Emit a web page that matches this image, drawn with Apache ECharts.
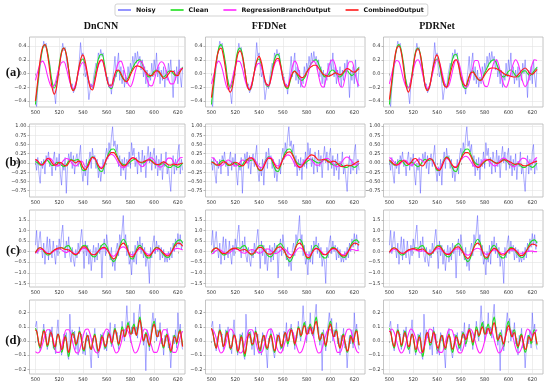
<!DOCTYPE html>
<html><head><meta charset="utf-8">
<script src="https://cdn.jsdelivr.net/npm/echarts@6/dist/echarts.min.js"></script>
<style>html,body{margin:0;padding:0;background:#fff}#c{width:550px;height:385px}</style>
</head><body><div id="c"></div>
<script>
const X_START = 500;
const xTicks = [500,520,540,560,580,600,620];
const yTicksA = [-0.4,-0.2,0,0.2,0.4];
const yTicksB = [-0.75,-0.5,-0.25,0,0.25,0.5,0.75,1.0];
const yTicksC = [-1.5,-1,-0.5,0,0.5,1,1.5];
const yTicksD = [-0.2,-0.1,0,0.1,0.2];
const columnTitles = ['DnCNN','FFDNet','PDRNet'];
const rowTitles = ['(a)','(b)','(c)','(d)'];
const seriesNames = ['Noisy','Clean','RegressionBranchOutput','CombinedOutput'];

// ---- row (a) ----
const noisyA = [-0.38,-0.48,-0.2,-0.05,0.1,0.25,0.35,0.47,0.38,0.44,
0.3,0.2,0.15,-0.05,-0.1,-0.2,-0.3,-0.44,-0.15,-0.05,
0.08,0.2,0.3,0.44,0.33,0.38,0.22,0.1,0.05,-0.1,
-0.2,-0.15,-0.28,-0.3,-0.2,-0.08,0.0,0.2,0.45,0.25,
0.3,0.1,-0.05,0.05,-0.15,-0.38,-0.25,-0.15,-0.22,-0.05,
0.05,0.15,0.1,0.3,0.22,0.35,0.25,0.3,0.12,0.0,
-0.1,-0.05,-0.2,-0.15,-0.3,-0.1,0.05,0.25,-0.05,0.15,
0.3,-0.1,0.1,-0.15,0.05,-0.2,-0.05,-0.15,0.1,-0.05,
0.15,0.05,0.25,0.1,0.3,0.15,0.32,0.18,0.25,0.05,
0.2,-0.05,0.1,-0.15,0.05,-0.2,0.0,-0.1,0.15,-0.05,
0.2,0.05,0.3,-0.05,0.1,-0.15,0.05,-0.1,0.1,-0.2,
0.05,-0.1,0.15,0.0,0.2,-0.05,-0.35,0.05,-0.1,0.1,
-0.15,0.2,-0.05,-0.2,0.1];
const cleanA = [-0.45,-0.15,0.15,0.36,0.42,0.33,0.12,-0.12,-0.21,-0.1,
0.12,0.32,0.37,0.28,0.06,-0.17,-0.24,-0.16,0.02,0.17,
0.21,0.12,-0.05,-0.17,-0.19,-0.05,0.14,0.26,0.28,0.15,
-0.05,-0.19,-0.22,-0.12,0.0,0.04,-0.02,-0.08,-0.1,-0.07,
0.01,0.08,0.15,0.19,0.2,0.14,0.05,-0.03,-0.05,-0.02,
0.03,0.05,0.02,-0.03,-0.05,-0.02,0.03,0.04,0.0,-0.03,
0.0,0.05,0.09];
const regA1 = [-0.1,0.03,0.14,0.18,0.12,-0.02,-0.14,-0.2,-0.17,-0.05,
0.08,0.16,0.17,0.08,-0.06,-0.18,-0.22,-0.14,0.0,0.12,
0.16,0.1,-0.04,-0.16,-0.19,-0.1,0.05,0.16,0.19,0.1,
-0.06,-0.18,-0.2,-0.1,0.05,0.16,0.18,0.1,-0.04,-0.15,
-0.19,-0.12,0.02,0.13,0.18,0.16,0.05,-0.08,-0.17,-0.18,
-0.1,0.03,0.13,0.17,0.15,0.05,-0.08,-0.15,-0.15,-0.07,
0.02,0.06,0.08];
const combA1 = [-0.4,-0.1,0.2,0.38,0.42,0.3,0.05,-0.2,-0.3,-0.18,
0.08,0.3,0.37,0.28,0.05,-0.18,-0.25,-0.17,0.03,0.2,
0.27,0.17,-0.02,-0.2,-0.24,-0.12,0.06,0.18,0.2,0.1,
-0.06,-0.17,-0.17,-0.06,0.04,0.05,0.0,-0.07,-0.12,-0.1,
-0.02,0.05,0.1,0.11,0.1,0.08,0.04,0.0,-0.03,-0.03,
0.01,0.04,0.03,-0.02,-0.07,-0.06,-0.01,0.03,0.03,-0.02,
-0.03,0.03,0.08];
const regA2 = [-0.15,-0.02,0.12,0.18,0.13,0.0,-0.15,-0.23,-0.18,-0.04,
0.1,0.18,0.17,0.07,-0.08,-0.19,-0.22,-0.13,0.01,0.12,
0.15,0.09,-0.05,-0.16,-0.18,-0.08,0.07,0.17,0.19,0.1,
-0.05,-0.16,-0.18,-0.06,0.1,0.18,0.13,-0.02,-0.17,-0.2,
-0.1,0.05,0.15,0.18,0.12,-0.03,-0.17,-0.2,-0.1,0.06,
0.17,0.2,0.12,-0.04,-0.18,-0.2,-0.08,0.08,0.17,0.17,
0.05,-0.1,-0.18];
const combA2 = [-0.35,-0.08,0.18,0.33,0.37,0.26,0.04,-0.2,-0.27,-0.16,
0.07,0.27,0.33,0.25,0.05,-0.17,-0.24,-0.16,0.02,0.18,
0.25,0.16,-0.02,-0.15,-0.17,-0.07,0.1,0.2,0.22,0.12,
-0.06,-0.18,-0.2,-0.1,0.0,0.03,0.0,-0.04,-0.06,-0.04,
0.02,0.07,0.1,0.12,0.12,0.08,0.03,-0.01,-0.03,-0.04,
-0.03,-0.01,0.01,0.0,-0.02,0.0,0.05,0.07,0.06,0.03,
0.02,0.04,0.07];
const regA3 = [-0.15,0.0,0.13,0.19,0.17,0.05,-0.1,-0.19,-0.2,-0.1,
0.05,0.17,0.2,0.13,-0.02,-0.16,-0.22,-0.16,-0.02,0.12,
0.2,0.16,0.03,-0.12,-0.2,-0.17,-0.04,0.11,0.2,0.17,
0.04,-0.11,-0.2,-0.18,-0.06,0.09,0.19,0.19,0.08,-0.07,
-0.18,-0.19,-0.09,0.06,0.17,0.2,0.11,-0.04,-0.16,-0.2,
-0.13,0.01,0.14,0.2,0.15,0.02,-0.12,-0.19,-0.14,0.0,
0.14,0.2,0.19];
const combA3 = [-0.38,-0.1,0.18,0.36,0.4,0.3,0.06,-0.18,-0.27,-0.15,
0.1,0.3,0.36,0.27,0.05,-0.18,-0.25,-0.17,0.03,0.2,
0.27,0.17,-0.02,-0.17,-0.2,-0.1,0.06,0.17,0.2,0.12,
-0.05,-0.15,-0.18,-0.09,0.0,0.02,-0.02,-0.07,-0.1,-0.08,
-0.02,0.03,0.07,0.08,0.08,0.07,0.05,0.03,0.0,-0.02,
-0.03,-0.04,-0.05,-0.05,-0.02,0.02,0.06,0.08,0.05,0.0,
-0.01,0.02,0.06];

// ---- row (b) ----
const noisyB = [0.1,-0.2,0.15,-0.3,-0.55,0.05,-0.15,0.1,-0.3,0.2,
0.05,0.3,-0.1,0.05,-0.35,0.1,0.3,-0.2,0.15,-0.1,
0.25,-0.3,-0.6,0.0,-0.2,0.15,-0.82,-0.1,0.25,0.05,
0.3,-0.15,0.2,-0.3,0.1,0.25,-0.1,0.2,0.48,-0.2,
-0.5,-0.1,-0.35,0.1,-0.6,0.05,0.3,-0.15,0.4,0.1,
0.2,-0.15,0.1,-0.4,-0.1,-0.5,-0.2,0.1,-0.3,0.2,
0.4,0.1,0.55,0.25,0.7,0.98,0.45,0.6,0.3,0.5,
-0.1,0.2,-0.35,0.1,-0.2,0.15,-0.45,0.1,-0.1,0.3,
-0.15,0.55,0.2,0.4,-0.1,0.15,-0.3,0.3,0.05,-0.25,
0.35,-0.1,0.2,-0.4,0.15,0.45,0.0,0.3,-0.2,0.2,
0.4,-0.15,0.2,-0.35,0.1,-0.2,0.25,-0.45,0.05,-0.1,
0.3,-0.3,-0.05,-0.45,-0.77,-0.1,0.2,-0.3,0.1,-0.2,
0.3,0.5,-0.3,0.1,-0.2];
const cleanB = [0.04,0.0,-0.06,-0.03,0.05,0.07,0.0,-0.07,-0.05,0.02,
0.0,-0.06,-0.1,-0.05,0.05,0.1,0.06,0.08,0.1,-0.05,
-0.2,-0.2,-0.05,0.1,0.17,0.12,-0.05,-0.2,-0.23,-0.08,
0.12,0.28,0.37,0.38,0.26,0.1,0.0,-0.04,-0.05,-0.02,
0.03,0.08,0.1,0.06,0.02,0.0,0.02,0.07,0.1,0.06,
0.0,-0.05,-0.06,-0.03,-0.02,-0.07,-0.12,-0.12,-0.06,-0.08,
-0.12,-0.08,0.0];
const regB1 = [0.08,0.05,-0.02,-0.06,0.0,0.1,0.13,0.08,-0.02,-0.08,
-0.07,0.0,0.08,0.12,0.1,0.03,-0.05,-0.08,-0.03,0.05,
0.02,-0.1,-0.1,0.03,0.15,0.12,0.0,-0.1,-0.12,-0.03,
0.1,0.2,0.23,0.2,0.1,-0.02,-0.1,-0.13,-0.1,0.0,
0.1,0.15,0.12,0.03,-0.06,-0.1,-0.06,0.05,0.13,0.14,
0.07,-0.03,-0.1,-0.11,-0.04,0.06,0.13,0.13,0.05,-0.05,
0.05,0.14,0.15];
const combB1 = [0.1,0.05,-0.03,-0.05,0.03,0.12,0.1,0.0,-0.06,-0.04,
0.02,0.0,-0.06,-0.08,0.0,0.08,0.05,0.0,0.05,0.03,
-0.12,-0.18,-0.1,0.05,0.15,0.13,0.0,-0.12,-0.15,-0.05,
0.12,0.22,0.28,0.28,0.2,0.08,-0.02,-0.08,-0.06,0.02,
0.1,0.14,0.12,0.06,0.02,0.02,0.05,0.08,0.08,0.04,
-0.01,-0.04,-0.04,0.0,0.03,0.0,-0.05,-0.06,-0.03,-0.04,
-0.05,-0.02,0.0];
const regB2 = [0.15,0.12,0.04,-0.05,-0.08,-0.04,0.04,0.08,0.05,-0.02,
-0.08,-0.06,0.02,0.08,0.06,0.0,0.08,0.13,0.1,0.0,
-0.1,-0.13,-0.05,0.08,0.15,0.15,0.05,-0.05,-0.08,-0.02,
0.08,0.17,0.22,0.2,0.1,-0.03,-0.1,-0.1,-0.04,0.05,
0.11,0.12,0.08,0.0,-0.06,-0.06,0.0,0.08,0.12,0.12,
0.06,-0.02,-0.08,-0.1,-0.05,0.05,0.13,0.16,0.12,0.04,
-0.04,-0.05,0.0];
const combB2 = [0.02,0.0,-0.05,-0.06,-0.02,0.03,0.02,-0.04,-0.06,-0.03,
0.02,0.0,-0.05,-0.08,-0.02,0.08,0.14,0.14,0.05,-0.08,
-0.18,-0.2,-0.1,0.05,0.13,0.12,0.02,-0.1,-0.15,-0.06,
0.1,0.22,0.29,0.3,0.22,0.08,-0.05,-0.12,-0.1,0.0,
0.1,0.18,0.22,0.2,0.14,0.08,0.08,0.1,0.08,0.03,
0.02,0.05,0.04,-0.02,-0.08,-0.1,-0.08,-0.06,-0.08,-0.06,
-0.02,0.02,0.05];
const regB3 = [0.15,0.1,0.02,-0.05,-0.05,0.02,0.08,0.06,-0.01,-0.06,
-0.04,0.04,0.1,0.1,0.04,0.02,0.08,0.12,0.08,-0.05,
-0.15,-0.16,-0.05,0.08,0.12,0.08,-0.02,-0.1,-0.1,-0.02,
0.08,0.15,0.18,0.15,0.06,-0.04,-0.1,-0.1,-0.04,0.04,
0.1,0.1,0.04,-0.03,-0.08,-0.06,0.02,0.1,0.13,0.1,
0.03,-0.05,-0.1,-0.08,0.0,0.08,0.13,0.12,0.05,-0.03,
0.0,0.1,0.15];
const combB3 = [0.08,0.02,-0.04,-0.06,-0.02,0.04,0.06,0.02,-0.04,0.0,
0.1,0.12,0.05,-0.06,-0.08,0.0,0.08,0.12,0.08,-0.04,
-0.16,-0.2,-0.1,0.06,0.15,0.1,-0.02,-0.1,-0.12,-0.04,
0.1,0.22,0.28,0.28,0.2,0.06,-0.06,-0.12,-0.1,-0.02,
0.05,0.08,0.09,0.07,0.02,-0.01,0.0,0.04,0.08,0.08,
0.05,0.02,-0.02,-0.04,-0.02,-0.03,-0.07,-0.08,-0.06,-0.03,
0.0,0.03,0.05];

// ---- row (c) ----
const noisyC = [0.3,1.0,-0.1,0.5,0.95,0.2,-0.3,0.4,-0.6,0.1,
0.7,-0.4,0.6,0.0,-0.3,0.5,-0.1,-0.6,0.3,-0.2,
0.6,0.1,0.8,1.25,0.2,-0.3,0.5,0.0,0.7,-0.2,
-0.5,0.2,-0.4,-0.7,0.1,-0.3,0.4,-0.1,0.6,1.05,
0.2,-0.8,0.5,-0.2,0.3,-0.6,0.1,-0.9,-0.2,0.3,
-0.5,0.2,-0.4,0.4,-0.1,0.3,-1.25,0.2,0.6,-0.2,
0.8,0.3,0.0,-0.4,0.2,-0.7,-0.3,-0.9,0.1,0.4,
-0.2,0.8,0.4,1.0,1.7,0.3,0.8,-0.2,0.3,-0.6,
-0.3,-1.1,0.0,-0.5,0.3,-0.6,0.5,0.1,0.7,-0.1,
0.4,-0.3,0.2,-0.7,-0.2,-0.5,-1.5,0.2,-0.3,0.4,
0.75,-0.1,0.5,0.0,0.3,-0.4,0.2,-0.3,0.1,-0.5,
-0.2,-0.5,0.0,-0.4,0.2,-0.3,0.4,0.0,0.6,0.2,
0.85,0.3,0.8,0.1,0.5];
const cleanC = [-0.05,0.12,0.18,0.1,-0.06,-0.16,-0.14,-0.02,0.08,0.1,
0.15,0.18,0.15,0.25,0.28,0.1,-0.1,-0.17,-0.08,0.12,
0.28,0.3,0.15,-0.08,-0.22,-0.25,-0.1,0.12,0.3,0.38,
0.25,-0.05,-0.35,-0.48,-0.3,0.05,0.4,0.58,0.45,0.05,
-0.3,-0.35,-0.1,0.2,0.3,0.15,-0.1,-0.28,-0.3,-0.1,
0.1,0.2,0.15,0.0,-0.15,-0.26,-0.28,-0.12,0.15,0.4,
0.52,0.55,0.4];
const regC1 = [-0.08,0.02,0.1,0.1,0.02,-0.07,-0.1,-0.05,0.04,0.1,
0.12,0.08,0.0,-0.05,0.0,0.02,-0.06,-0.12,-0.08,0.05,
0.15,0.15,0.06,-0.06,-0.14,-0.14,-0.05,0.07,0.14,0.15,
0.08,-0.05,-0.18,-0.22,-0.12,0.05,0.18,0.22,0.16,0.02,
-0.12,-0.16,-0.08,0.05,0.12,0.1,0.0,-0.1,-0.13,-0.07,
0.04,0.1,0.1,0.02,-0.07,-0.12,-0.12,-0.05,0.06,0.13,
0.15,0.12,0.08];
const combC1 = [-0.05,0.12,0.18,0.12,-0.02,-0.1,-0.1,-0.02,0.08,0.14,
0.18,0.18,0.12,0.1,0.08,0.0,-0.1,-0.14,-0.06,0.1,
0.22,0.22,0.1,-0.05,-0.15,-0.15,-0.05,0.08,0.18,0.2,
0.12,-0.05,-0.25,-0.35,-0.22,0.05,0.3,0.4,0.3,0.02,
-0.22,-0.25,-0.1,0.1,0.2,0.12,-0.05,-0.18,-0.2,-0.08,
0.08,0.18,0.16,0.05,-0.08,-0.18,-0.2,-0.08,0.12,0.3,
0.4,0.38,0.25];
const regC2 = [-0.12,-0.05,0.05,0.1,0.06,-0.03,-0.1,-0.1,-0.02,0.07,
0.12,0.1,0.02,-0.06,-0.08,-0.02,0.06,0.1,0.06,-0.02,
-0.08,-0.05,0.05,0.12,0.12,0.04,-0.06,-0.1,-0.05,0.06,
0.13,0.1,-0.02,-0.14,-0.16,-0.05,0.1,0.18,0.14,0.0,
-0.14,-0.17,-0.08,0.06,0.14,0.12,0.02,-0.1,-0.14,-0.08,
0.04,0.12,0.12,0.03,-0.08,-0.14,-0.12,-0.03,0.06,0.1,
0.08,0.05,0.08];
const combC2 = [0.0,0.12,0.16,0.1,-0.03,-0.1,-0.08,0.0,0.1,0.15,
0.16,0.12,0.06,0.08,0.1,0.02,-0.08,-0.12,-0.05,0.1,
0.2,0.2,0.08,-0.05,-0.12,-0.12,-0.03,0.1,0.2,0.22,
0.12,-0.06,-0.24,-0.3,-0.18,0.08,0.32,0.4,0.3,0.0,
-0.25,-0.28,-0.12,0.08,0.15,0.1,-0.03,-0.14,-0.15,-0.05,
0.08,0.15,0.14,0.04,-0.1,-0.2,-0.2,-0.08,0.12,0.3,
0.4,0.38,0.3];
const regC3 = [-0.05,0.05,0.1,0.08,0.0,-0.07,-0.08,-0.03,0.04,0.08,
0.1,0.08,0.03,0.02,0.04,0.0,-0.06,-0.09,-0.05,0.05,
0.13,0.14,0.06,-0.04,-0.1,-0.1,-0.03,0.06,0.12,0.13,
0.07,-0.03,-0.13,-0.17,-0.1,0.02,0.12,0.16,0.12,0.02,
-0.1,-0.13,-0.07,0.03,0.08,0.06,-0.02,-0.08,-0.09,-0.04,
0.03,0.08,0.08,0.03,-0.04,-0.08,-0.08,-0.04,0.0,0.02,
0.02,0.0,0.0];
const combC3 = [-0.02,0.12,0.17,0.12,0.0,-0.08,-0.08,0.0,0.08,0.12,
0.14,0.12,0.08,0.1,0.12,0.04,-0.08,-0.12,-0.05,0.1,
0.22,0.24,0.12,-0.04,-0.13,-0.13,-0.04,0.1,0.2,0.22,
0.12,-0.06,-0.25,-0.32,-0.2,0.05,0.3,0.4,0.32,0.02,
-0.24,-0.28,-0.12,0.06,0.15,0.1,-0.04,-0.15,-0.16,-0.06,
0.06,0.14,0.14,0.05,-0.08,-0.18,-0.18,-0.06,0.12,0.28,
0.35,0.33,0.25];

// ---- row (d) ----
const noisyD = [0.1,0.14,0.0,-0.02,-0.07,0.02,0.04,0.12,0.03,0.05,
-0.06,0.0,0.08,0.03,0.1,-0.05,-0.03,-0.09,0.06,0.15,
0.0,-0.02,-0.1,-0.04,0.05,0.0,0.06,-0.1,-0.13,0.19,
0.02,0.08,0.02,0.07,-0.06,0.01,-0.1,0.1,0.03,0.05,
-0.09,-0.04,-0.1,0.06,0.0,0.04,-0.08,-0.19,0.02,0.0,
0.09,-0.03,-0.02,-0.12,-0.04,0.05,0.0,0.06,-0.06,-0.02,
-0.07,0.07,0.02,0.13,-0.04,0.03,0.02,0.12,0.04,0.06,
-0.06,0.04,0.02,0.14,0.05,0.0,0.1,0.25,0.1,0.14,
0.0,0.1,0.05,0.2,0.05,0.1,0.02,0.18,0.26,0.08,
0.1,-0.03,0.05,-0.21,0.08,0.02,-0.07,0.04,0.05,0.2,
0.1,0.16,0.0,0.08,0.03,0.13,-0.02,0.02,-0.1,0.04,
0.0,0.09,-0.05,-0.02,-0.19,-0.04,0.04,-0.02,0.08,-0.05,
0.2,0.05,0.12,-0.02,-0.06];
const cleanD = [0.09,0.07,0.02,-0.03,-0.05,-0.01,0.05,0.08,0.06,0.0,
-0.04,-0.02,0.04,0.07,0.04,-0.02,-0.06,-0.04,0.02,0.05,
0.03,-0.03,-0.08,-0.06,0.0,0.04,0.01,-0.07,-0.11,-0.07,
0.0,0.05,0.06,0.02,-0.03,-0.02,0.03,0.07,0.05,-0.01,
-0.06,-0.07,-0.02,0.03,0.04,0.0,-0.05,-0.06,-0.02,0.03,
0.05,0.01,-0.05,-0.08,-0.05,0.01,0.04,0.02,-0.03,-0.05,
-0.02,0.04,0.06,0.03,-0.02,0.0,0.06,0.09,0.06,0.01,
-0.03,0.0,0.06,0.1,0.08,0.03,0.05,0.1,0.13,0.1,
0.05,0.06,0.1,0.12,0.08,0.04,0.08,0.14,0.17,0.12,
0.04,0.0,0.02,0.06,0.04,-0.01,-0.04,0.0,0.07,0.12,
0.14,0.1,0.04,0.03,0.07,0.08,0.03,-0.03,-0.05,-0.01,
0.04,0.05,0.0,-0.05,-0.08,-0.06,0.0,0.04,0.02,-0.02,
0.02,0.07,0.08,0.03,-0.03];
const regD1 = [-0.075,-0.085,-0.07,-0.02,0.04,0.08,0.08,0.04,-0.03,-0.08,
-0.08,-0.04,0.03,0.08,0.08,0.04,-0.03,-0.08,-0.085,-0.04,
0.03,0.08,0.085,0.05,-0.02,-0.07,-0.085,-0.06,0.0,0.06,
0.085,0.07,0.01,-0.05,-0.085,-0.07,-0.02,0.05,0.085,0.07,
0.02,-0.05,-0.085,-0.07,-0.02,0.05,0.085,0.075,0.02,-0.04,
-0.08,-0.08,-0.04,0.03,0.08,0.08,0.04,-0.03,-0.08,-0.08,
-0.04,0.03,0.07];
const combD1 = [0.08,0.07,0.03,-0.02,-0.04,-0.01,0.04,0.07,0.06,0.01,
-0.03,-0.01,0.04,0.06,0.04,-0.01,-0.04,-0.03,0.02,0.05,
0.03,-0.02,-0.06,-0.05,0.0,0.03,0.01,-0.05,-0.08,-0.05,
0.01,0.05,0.05,0.02,-0.02,-0.01,0.03,0.06,0.05,0.0,
-0.05,-0.06,-0.02,0.02,0.04,0.01,-0.04,-0.06,-0.02,0.02,
0.04,0.01,-0.04,-0.07,-0.05,0.0,0.03,0.02,-0.02,-0.04,
-0.02,0.03,0.05,0.03,-0.01,0.0,0.05,0.08,0.06,0.01,
-0.02,0.0,0.05,0.08,0.07,0.03,0.04,0.08,0.11,0.09,
0.05,0.05,0.08,0.1,0.07,0.04,0.07,0.12,0.15,0.11,
0.04,0.0,0.02,0.05,0.03,-0.01,-0.03,0.0,0.06,0.1,
0.12,0.09,0.04,0.03,0.06,0.07,0.03,-0.02,-0.04,-0.01,
0.03,0.04,0.0,-0.04,-0.07,-0.05,0.0,0.03,0.02,-0.01,
0.02,0.06,0.07,0.02,-0.04];
const regD2 = [0.085,0.07,0.02,-0.05,-0.085,-0.07,-0.02,0.05,0.085,0.07,
0.02,-0.05,-0.085,-0.075,-0.02,0.04,0.08,0.08,0.04,-0.03,
-0.08,-0.08,-0.04,0.03,0.08,0.085,0.05,-0.02,-0.07,-0.085,
-0.06,0.0,0.06,0.085,0.07,0.01,-0.05,-0.085,-0.07,-0.02,
0.05,0.085,0.07,0.02,-0.05,-0.085,-0.075,-0.02,0.04,0.08,
0.08,0.04,-0.03,-0.08,-0.08,-0.04,0.03,0.08,0.085,0.05,
-0.02,-0.07,-0.085];
const combD2 = [0.09,0.06,0.02,-0.02,-0.05,-0.02,0.04,0.07,0.05,0.0,
-0.04,-0.02,0.03,0.06,0.04,-0.01,-0.05,-0.04,0.01,0.04,
0.03,-0.02,-0.07,-0.06,-0.01,0.03,0.01,-0.06,-0.09,-0.06,
0.0,0.04,0.05,0.02,-0.02,-0.02,0.02,0.06,0.05,0.0,
-0.05,-0.06,-0.02,0.02,0.04,0.01,-0.04,-0.05,-0.02,0.02,
0.04,0.01,-0.04,-0.07,-0.05,0.0,0.04,0.03,-0.02,-0.04,
-0.01,0.04,0.06,0.04,0.0,0.01,0.05,0.08,0.06,0.01,
-0.02,0.01,0.06,0.09,0.08,0.04,0.05,0.09,0.11,0.09,
0.05,0.05,0.08,0.1,0.08,0.05,0.08,0.12,0.14,0.1,
0.04,0.01,0.02,0.05,0.04,0.0,-0.03,0.0,0.06,0.1,
0.12,0.09,0.04,0.03,0.06,0.07,0.03,-0.02,-0.05,-0.02,
0.03,0.04,0.0,-0.04,-0.07,-0.06,-0.01,0.03,0.02,-0.01,
0.02,0.06,0.07,0.03,-0.03];
const regD3 = [0.065,0.085,0.06,0.0,-0.06,-0.085,-0.065,-0.01,0.05,0.085,
0.07,0.02,-0.05,-0.085,-0.07,-0.02,0.05,0.085,0.075,0.02,
-0.04,-0.08,-0.08,-0.04,0.03,0.08,0.08,0.04,-0.03,-0.08,
-0.085,-0.05,0.02,0.07,0.085,0.06,0.0,-0.06,-0.085,-0.06,
0.0,0.06,0.085,0.07,0.01,-0.05,-0.085,-0.07,-0.02,0.05,
0.085,0.07,0.02,-0.05,-0.085,-0.07,-0.02,0.04,0.085,0.07,
0.04,0.06,0.08];
const combD3 = [0.07,0.06,0.02,-0.02,-0.04,0.0,0.05,0.07,0.05,0.01,
-0.03,-0.01,0.04,0.06,0.03,-0.01,-0.04,-0.03,0.02,0.05,
0.03,-0.02,-0.06,-0.05,0.0,0.03,0.01,-0.05,-0.08,-0.05,
0.01,0.05,0.06,0.03,-0.01,-0.01,0.03,0.06,0.05,0.0,
-0.04,-0.05,-0.02,0.02,0.04,0.02,-0.03,-0.05,-0.02,0.02,
0.04,0.02,-0.03,-0.06,-0.04,0.0,0.03,0.02,-0.01,-0.03,
-0.01,0.03,0.05,0.04,0.01,0.02,0.05,0.08,0.06,0.02,
-0.01,0.01,0.05,0.08,0.07,0.04,0.05,0.08,0.1,0.08,
0.05,0.05,0.08,0.09,0.07,0.05,0.07,0.11,0.13,0.1,
0.05,0.01,0.02,0.04,0.03,0.0,-0.02,0.01,0.05,0.09,
0.11,0.09,0.05,0.03,0.05,0.06,0.03,-0.01,-0.04,-0.02,
0.02,0.04,0.01,-0.03,-0.06,-0.05,-0.01,0.03,0.02,0.0,
0.02,0.05,0.06,0.02,-0.02];

// ---- assembly ----
const rows = [
  {noisy: noisyA, clean: cleanA, cStep: 2, reg: [regA1, regA2, regA3], comb: [combA1, combA2, combA3], kStep: 2, ticks: yTicksA, dec: 1, ymin: -0.487, ymax: 0.531},
  {noisy: noisyB, clean: cleanB, cStep: 2, reg: [regB1, regB2, regB3], comb: [combB1, combB2, combB3], kStep: 2, ticks: yTicksB, dec: 2, ymin: -0.92, ymax: 1.054},
  {noisy: noisyC, clean: cleanC, cStep: 2, reg: [regC1, regC2, regC3], comb: [combC1, combC2, combC3], kStep: 2, ticks: yTicksC, dec: 1, ymin: -1.67, ymax: 1.96},
  {noisy: noisyD, clean: cleanD, cStep: 1, reg: [regD1, regD2, regD3], comb: [combD1, combD2, combD3], kStep: 1, ticks: yTicksD, dec: 1, ymin: -0.233, ymax: 0.29}
];

const colLeft = [29.5, 205.5, 383.5];
const colRight = [185, 365, 543];
const colXMax = [626, 629, 629];
const X_MIN = 495;
const rowTop = [37, 124, 210, 300];
const rowBottom = [107, 197, 287, 374];

const COLORS = ['rgba(70,70,255,0.55)', '#1ee01e', '#ff26ff', '#ff1a1a'];
const WIDTHS = [0.8, 1.1, 1.1, 1.15];

function pts(arr, step) { return arr.map((v, i) => [X_START + i * step, v]); }
function fmt(v, dec) { const s = Math.abs(v).toFixed(dec); return (v < -1e-9 ? '\u2212' : '') + s; }

const grids = [], xAxes = [], yAxes = [], series = [];
rows.forEach((row, r) => {
  for (let c = 0; c < 3; c++) {
    const gi = grids.length;
    grids.push({left: colLeft[c], top: rowTop[r], width: colRight[c] - colLeft[c], height: rowBottom[r] - rowTop[r],
      show: true, borderColor: '#b5b5b5', borderWidth: 0.8, backgroundColor: '#fff'});
    xAxes.push({gridIndex: gi, type: 'value', min: X_MIN, max: colXMax[c],
      axisLine: {show: false},
      axisTick: {show: true, customValues: xTicks, length: 2, lineStyle: {color: '#888', width: 0.6}},
      axisLabel: {customValues: xTicks, fontSize: 5, color: '#333', margin: 3, fontFamily: 'DejaVu Sans'},
      splitLine: {show: true, lineStyle: {color: '#e3e3e3', width: 0.6}}});
    yAxes.push({gridIndex: gi, type: 'value', min: row.ymin, max: row.ymax,
      axisLine: {show: false},
      axisTick: {show: true, customValues: row.ticks, length: 2, lineStyle: {color: '#888', width: 0.6}},
      axisLabel: {customValues: row.ticks, fontSize: 5, color: '#333', margin: 3, fontFamily: 'DejaVu Sans', formatter: v => fmt(v, row.dec)},
      splitLine: {show: true, lineStyle: {color: '#e3e3e3', width: 0.6}}});
    const sets = [[row.noisy, 1, false], [row.clean, row.cStep, 0.35], [row.reg[c], 2, 0.35], [row.comb[c], row.kStep, 0.35]];
    sets.forEach((s, k) => {
      series.push({name: seriesNames[k], type: 'line', xAxisIndex: gi, yAxisIndex: gi,
        data: pts(s[0], s[1]), showSymbol: false, symbol: 'none', smooth: s[2],
        lineStyle: {color: COLORS[k], width: WIDTHS[k]}, itemStyle: {color: COLORS[k]},
        emphasis: {disabled: true}, z: 2 + k});
    });
  }
});

const graphic = [];
const colTitleX = [101, 269, 437];
columnTitles.forEach((t, i) => graphic.push({type: 'text', x: colTitleX[i], y: 26,
  style: {text: t, font: 'bold 10px "Liberation Serif"', fill: '#111', textAlign: 'center', textVerticalAlign: 'middle'}}));
const rowTitleY = [73, 163, 251, 341];
rowTitles.forEach((t, i) => graphic.push({type: 'text', x: 13, y: rowTitleY[i],
  style: {text: t, font: 'bold 12.5px "Liberation Serif"', fill: '#111', textAlign: 'center', textVerticalAlign: 'middle'}}));

const chart = echarts.init(document.getElementById('c'), null, {renderer: 'canvas'});
chart.setOption({
  animation: false,
  backgroundColor: '#fff',
  legend: {data: seriesNames.map((n, k) => ({name: n, itemStyle: {color: k === 0 ? '#7b7bff' : COLORS[k]}})),
    left: 115, top: 4, icon: 'rect', itemWidth: 13, itemHeight: 1.6, itemGap: 15,
    padding: [3, 4, 3, 3], borderColor: '#c8c8c8', borderWidth: 0.8, borderRadius: 2,
    textStyle: {fontSize: 6.3, fontWeight: 'bold', fontFamily: 'DejaVu Sans', color: '#111'}},
  grid: grids, xAxis: xAxes, yAxis: yAxes, series: series, graphic: graphic
});
</script></body></html>
